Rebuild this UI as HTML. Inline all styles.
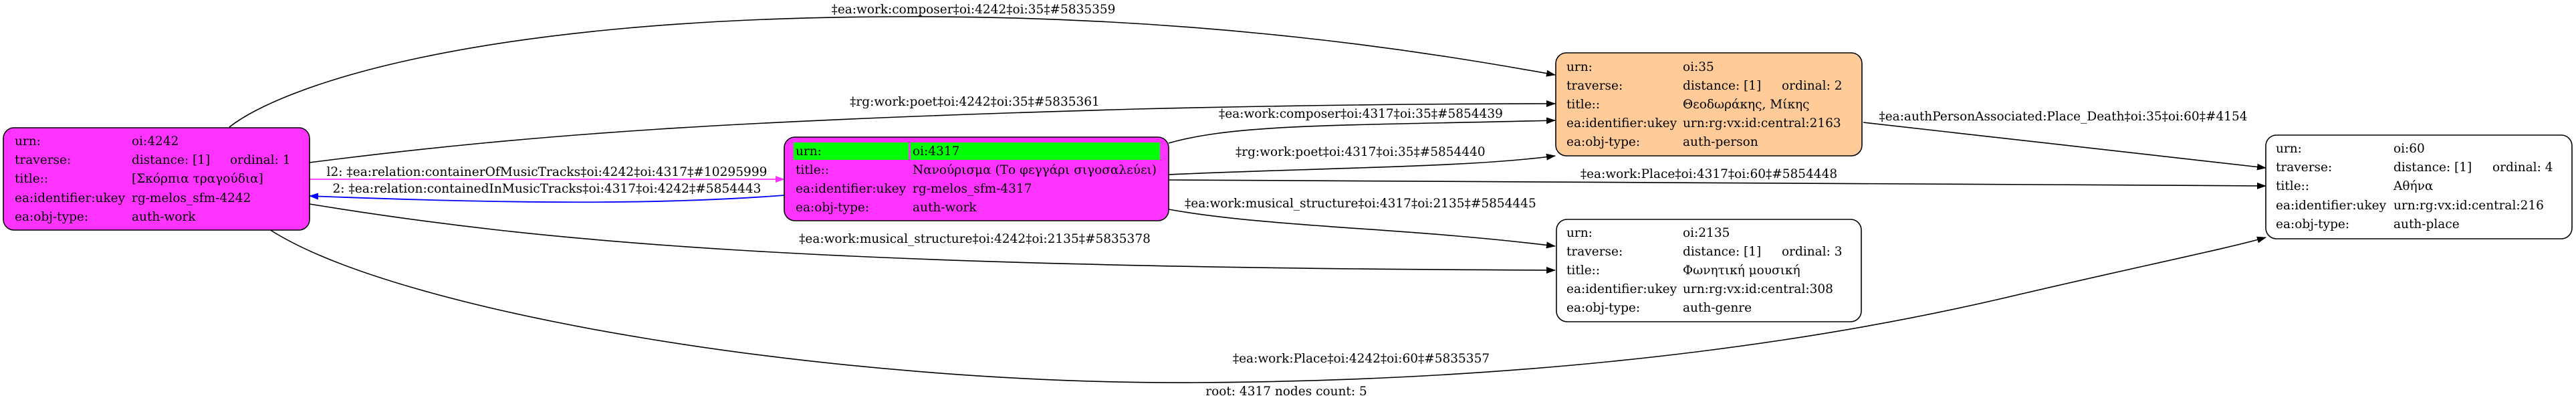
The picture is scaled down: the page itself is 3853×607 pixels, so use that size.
<!DOCTYPE html>
<html><head><meta charset="utf-8"><style>
html,body{margin:0;padding:0;background:#fff;}
svg{display:block;}
text{font-family:"DejaVu Serif","Liberation Serif",serif;font-size:18.5px;fill:#000;}
</style></head><body>
<svg width="3853" height="607" viewBox="0 0 3853 607" xmlns="http://www.w3.org/2000/svg">
<defs>
<marker id="ab" markerWidth="14" markerHeight="10" refX="13" refY="5" orient="auto" markerUnits="userSpaceOnUse"><path d="M0,0 L14,5 L0,10 z" fill="#000"/></marker>
<marker id="am" markerWidth="14" markerHeight="10" refX="13" refY="5" orient="auto" markerUnits="userSpaceOnUse"><path d="M0,0 L14,5 L0,10 z" fill="#ff33ff"/></marker>
<marker id="abl" markerWidth="14" markerHeight="10" refX="13" refY="5" orient="auto" markerUnits="userSpaceOnUse"><path d="M0,0 L14,5 L0,10 z" fill="#0000ff"/></marker>
</defs>
<g fill="none" stroke="#000" stroke-width="1.6">
<path d="M343,190 C420,130 700,28 1330,25 C1800,22 2150,80 2326,112" marker-end="url(#ab)"/>
<path d="M463,243 C800,200 1100,180 1700,163 C1950,157 2150,155 2326,155" marker-end="url(#ab)"/>
<path d="M1748,214 C1850,185 2000,188 2326,180" marker-end="url(#ab)"/>
<path d="M1748,261 C2000,250 2200,250 2326,233" marker-end="url(#ab)"/>
<path d="M1748,269 C2200,271 2800,274 3389,278" marker-end="url(#ab)"/>
<path d="M2787,183 L3389,251" marker-end="url(#ab)"/>
<path d="M1748,313 C1900,340 2100,340 2326,368" marker-end="url(#ab)"/>
<path d="M463,305 C800,360 1200,400 2326,404" marker-end="url(#ab)"/>
<path d="M403,343 C600,470 1250,575 1789,572 C2300,569 2700,515 3000,445 C3200,398 3330,372 3389,355" marker-end="url(#ab)"/>
</g>
<path d="M463,268 L1173,268" stroke="#ff33ff" stroke-width="1.8" fill="none" marker-end="url(#am)"/>
<path d="M1173,292 C1000,305 800,306 463,293" stroke="#0000ff" stroke-width="1.8" fill="none" marker-end="url(#abl)"/>

<text x="1456" y="20" text-anchor="middle">‡ea:work:composer‡oi:4242‡oi:35‡#5835359</text>
<text x="1458" y="158" text-anchor="middle">‡rg:work:poet‡oi:4242‡oi:35‡#5835361</text>
<text x="1823" y="176">‡ea:work:composer‡oi:4317‡oi:35‡#5854439</text>
<text x="1848" y="233">‡rg:work:poet‡oi:4317‡oi:35‡#5854440</text>
<text x="2556" y="266" text-anchor="middle">‡ea:work:Place‡oi:4317‡oi:60‡#5854448</text>
<text x="3086" y="180" text-anchor="middle">‡ea:authPersonAssociated:Place_Death‡oi:35‡oi:60‡#4154</text>
<text x="1772" y="310">‡ea:work:musical_structure‡oi:4317‡oi:2135‡#5854445</text>
<text x="1458" y="363" text-anchor="middle">‡ea:work:musical_structure‡oi:4242‡oi:2135‡#5835378</text>
<text x="2036" y="542" text-anchor="middle">‡ea:work:Place‡oi:4242‡oi:60‡#5835357</text>
<text x="818" y="263" text-anchor="middle" textLength="659" lengthAdjust="spacingAndGlyphs">l2: ‡ea:relation:containerOfMusicTracks‡oi:4242‡oi:4317‡#10295999</text>
<text x="818" y="288" text-anchor="middle" textLength="641" lengthAdjust="spacingAndGlyphs">2: ‡ea:relation:containedInMusicTracks‡oi:4317‡oi:4242‡#5854443</text>
<text x="1924" y="591" text-anchor="middle">root: 4317 nodes count: 5</text>

<rect x="5" y="191" width="458" height="153" rx="16" fill="#ff33ff" stroke="#000" stroke-width="1.6"/>
<text x="22" y="217">urn:</text><text x="197" y="217">oi:4242</text>
<text x="22" y="245">traverse:</text><text x="197" y="245">distance: [1]</text><text x="344" y="245">ordinal: 1</text>
<text x="22" y="273">title::</text><text x="197" y="273">[Σκόρπια τραγούδια]</text>
<text x="22" y="302">ea:identifier:ukey</text><text x="197" y="302">rg-melos_sfm-4242</text>
<text x="22" y="330">ea:obj-type:</text><text x="197" y="330">auth-work</text>

<rect x="1173" y="205" width="575" height="125" rx="16" fill="#ff33ff" stroke="#000" stroke-width="1.6"/>
<rect x="1187" y="213" width="172" height="26" fill="#00ff00"/>
<rect x="1362" y="213" width="373" height="26" fill="#00ff00"/>
<text x="1190" y="232">urn:</text><text x="1365" y="232">oi:4317</text>
<text x="1190" y="260">title::</text><text x="1365" y="260">Νανούρισμα (Το φεγγάρι σιγοσαλεύει)</text>
<text x="1190" y="288">ea:identifier:ukey</text><text x="1365" y="288">rg-melos_sfm-4317</text>
<text x="1190" y="316">ea:obj-type:</text><text x="1365" y="316">auth-work</text>

<rect x="2327" y="79" width="458" height="154" rx="16" fill="#ffcc99" stroke="#000" stroke-width="1.6"/>
<text x="2343" y="106">urn:</text><text x="2517" y="106">oi:35</text>
<text x="2343" y="134">traverse:</text><text x="2517" y="134">distance: [1]</text><text x="2665" y="134">ordinal: 2</text>
<text x="2343" y="162">title::</text><text x="2517" y="162">Θεοδωράκης, Μίκης</text>
<text x="2343" y="190">ea:identifier:ukey</text><text x="2517" y="190">urn:rg:vx:id:central:2163</text>
<text x="2343" y="218">ea:obj-type:</text><text x="2517" y="218">auth-person</text>

<rect x="2328" y="328" width="456" height="153" rx="16" fill="#fff" stroke="#000" stroke-width="1.6"/>
<text x="2343" y="354">urn:</text><text x="2517" y="354">oi:2135</text>
<text x="2343" y="382">traverse:</text><text x="2517" y="382">distance: [1]</text><text x="2665" y="382">ordinal: 3</text>
<text x="2343" y="410">title::</text><text x="2517" y="410">Φωνητική μουσική</text>
<text x="2343" y="438">ea:identifier:ukey</text><text x="2517" y="438">urn:rg:vx:id:central:308</text>
<text x="2343" y="466">ea:obj-type:</text><text x="2517" y="466">auth-genre</text>

<rect x="3389" y="202" width="458" height="155" rx="16" fill="#fff" stroke="#000" stroke-width="1.6"/>
<text x="3404" y="228">urn:</text><text x="3580" y="228">oi:60</text>
<text x="3404" y="256">traverse:</text><text x="3580" y="256">distance: [1]</text><text x="3728" y="256">ordinal: 4</text>
<text x="3404" y="284">title::</text><text x="3580" y="284">Αθήνα</text>
<text x="3404" y="313">ea:identifier:ukey</text><text x="3580" y="313">urn:rg:vx:id:central:216</text>
<text x="3404" y="341">ea:obj-type:</text><text x="3580" y="341">auth-place</text>
</svg>
</body></html>
